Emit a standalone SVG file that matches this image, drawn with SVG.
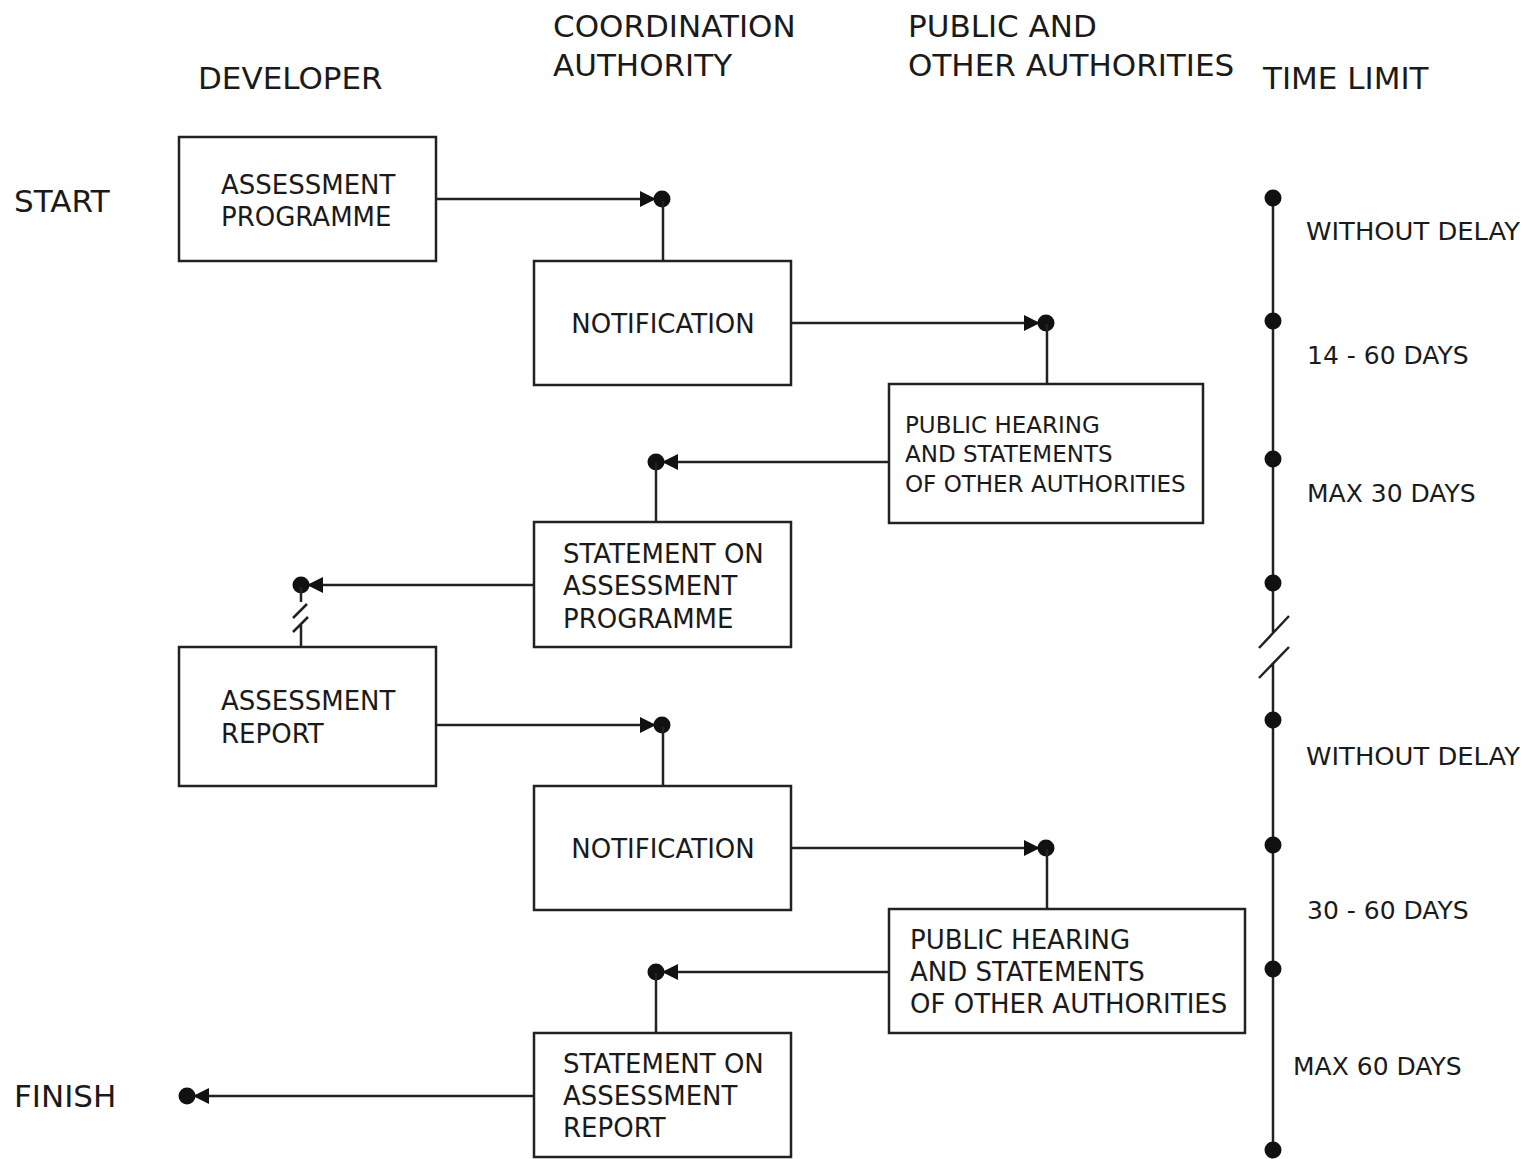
<svg xmlns="http://www.w3.org/2000/svg" width="1524" height="1159" viewBox="0 0 1524 1159">
<style>
text{font-family:"DejaVu Sans","Verdana",sans-serif;fill:#1a1a1a}
.h{font-size:31px}
.b{font-size:26px}
.s{font-size:23px}
.t{font-size:25px}
.box{fill:#fff;stroke:#222;stroke-width:2.5}
.ln{fill:none;stroke:#222;stroke-width:2.5}
.dot{fill:#111}
</style>
<defs>
<marker id="end" markerUnits="userSpaceOnUse" viewBox="-26 -10 36 20" refX="0" refY="0" markerWidth="36" markerHeight="20" orient="auto">
<path d="M-22,-8 L-6,0 L-22,8 Z" fill="#111"/>
<circle cx="0" cy="0" r="8.5" fill="#111"/>
</marker>
</defs>
<g id="headers">
<text class="h" x="198" y="89">DEVELOPER</text>
<text class="h" x="553" y="37">COORDINATION</text>
<text class="h" x="553" y="76">AUTHORITY</text>
<text class="h" x="908" y="37">PUBLIC AND</text>
<text class="h" x="908" y="76">OTHER AUTHORITIES</text>
<text class="h" x="1263" y="89">TIME LIMIT</text>
<text class="h" x="14" y="212">START</text>
<text class="h" x="14" y="1107">FINISH</text>
</g>
<g id="connectors">
<path class="ln" d="M436,199 H662" marker-end="url(#end)"/>
<path class="ln" d="M663,201 V261"/>
<path class="ln" d="M791,323 H1046" marker-end="url(#end)"/>
<path class="ln" d="M1047,324 V384"/>
<path class="ln" d="M889,462 H656" marker-end="url(#end)"/>
<path class="ln" d="M656,463 V522"/>
<path class="ln" d="M534,585 H301" marker-end="url(#end)"/>
<path class="ln" d="M301,587 V602 M293,618 L307,604 M293,632 L308,617 M301,625 V647"/>
<path class="ln" d="M436,725 H662" marker-end="url(#end)"/>
<path class="ln" d="M663,727 V786"/>
<path class="ln" d="M791,848 H1046" marker-end="url(#end)"/>
<path class="ln" d="M1047,849 V909"/>
<path class="ln" d="M889,972 H656" marker-end="url(#end)"/>
<path class="ln" d="M656,973 V1033"/>
<path class="ln" d="M534,1096 H187" marker-end="url(#end)"/>
</g>
<g id="timeline">
<path class="ln" d="M1273,198 V633 M1273,663 V1150 M1259,648 L1289,616 M1259,678 L1289,647"/>
<circle class="dot" cx="1273" cy="198" r="8.5"/>
<circle class="dot" cx="1273" cy="321" r="8.5"/>
<circle class="dot" cx="1273" cy="459" r="8.5"/>
<circle class="dot" cx="1273" cy="583" r="8.5"/>
<circle class="dot" cx="1273" cy="720" r="8.5"/>
<circle class="dot" cx="1273" cy="845" r="8.5"/>
<circle class="dot" cx="1273" cy="969" r="8.5"/>
<circle class="dot" cx="1273" cy="1150" r="8.5"/>
<text class="t" x="1306" y="240" textLength="214" lengthAdjust="spacingAndGlyphs">WITHOUT DELAY</text>
<text class="t" x="1307" y="364">14 - 60 DAYS</text>
<text class="t" x="1307" y="502">MAX 30 DAYS</text>
<text class="t" x="1306" y="765" textLength="214" lengthAdjust="spacingAndGlyphs">WITHOUT DELAY</text>
<text class="t" x="1307" y="919">30 - 60 DAYS</text>
<text class="t" x="1293" y="1075">MAX 60 DAYS</text>
</g>
<g id="n1"><rect class="box" x="179" y="137" width="257" height="124"/>
<text class="b" x="221" y="194">ASSESSMENT</text><text class="b" x="221" y="226">PROGRAMME</text></g>
<g id="n2"><rect class="box" x="534" y="261" width="257" height="124"/>
<text class="b" x="663" y="333" text-anchor="middle">NOTIFICATION</text></g>
<g id="n3"><rect class="box" x="889" y="384" width="314" height="139"/>
<text class="s" x="905" y="433">PUBLIC HEARING</text><text class="s" x="905" y="462">AND STATEMENTS</text><text class="s" x="905" y="492">OF OTHER AUTHORITIES</text></g>
<g id="n4"><rect class="box" x="534" y="522" width="257" height="125"/>
<text class="b" x="563" y="563">STATEMENT ON</text><text class="b" x="563" y="595">ASSESSMENT</text><text class="b" x="563" y="628">PROGRAMME</text></g>
<g id="n5"><rect class="box" x="179" y="647" width="257" height="139"/>
<text class="b" x="221" y="710">ASSESSMENT</text><text class="b" x="221" y="743">REPORT</text></g>
<g id="n6"><rect class="box" x="534" y="786" width="257" height="124"/>
<text class="b" x="663" y="858" text-anchor="middle">NOTIFICATION</text></g>
<g id="n7"><rect class="box" x="889" y="909" width="356" height="124"/>
<text class="b" x="910" y="949">PUBLIC HEARING</text><text class="b" x="910" y="981">AND STATEMENTS</text><text class="b" x="910" y="1013">OF OTHER AUTHORITIES</text></g>
<g id="n8"><rect class="box" x="534" y="1033" width="257" height="124"/>
<text class="b" x="563" y="1073">STATEMENT ON</text><text class="b" x="563" y="1105">ASSESSMENT</text><text class="b" x="563" y="1137">REPORT</text></g>
</svg>
